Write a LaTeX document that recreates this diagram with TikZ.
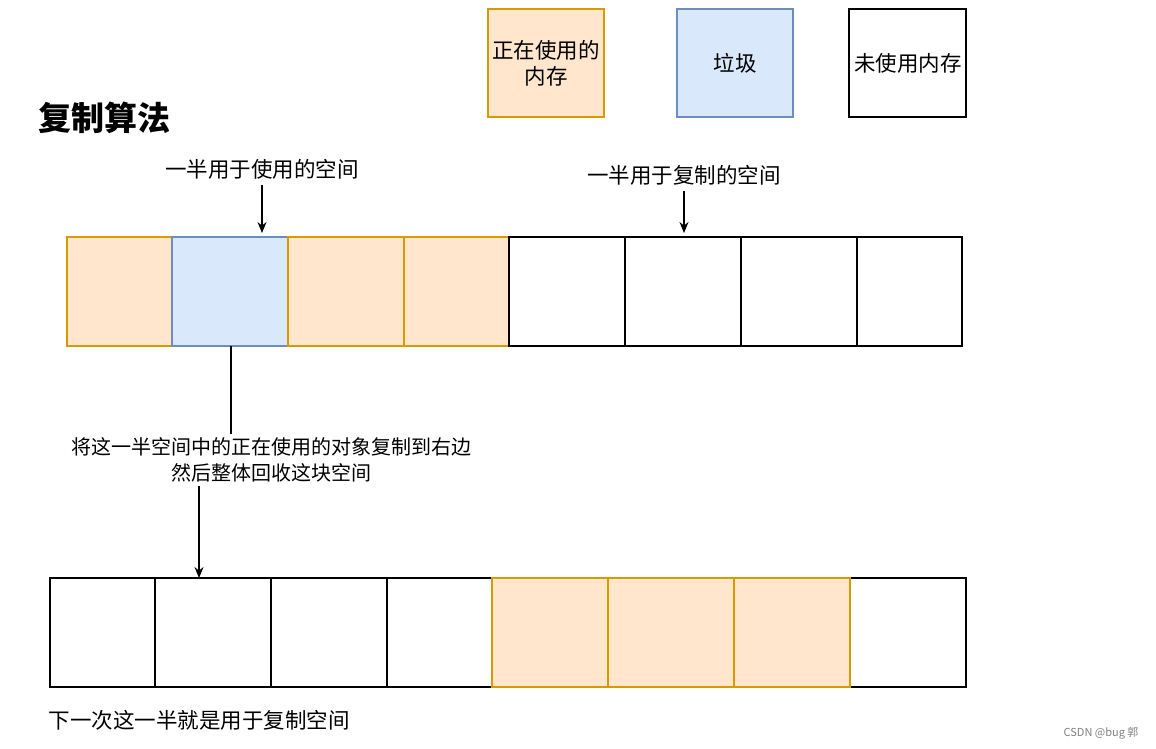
\documentclass[tikz,border=0pt]{standalone}
\usepackage{fontspec}
\setmainfont{Noto Sans CJK SC}
\usetikzlibrary{arrows.meta}
\definecolor{ofill}{HTML}{FFE6CC}\definecolor{odraw}{HTML}{D79B00}
\definecolor{bfill}{HTML}{DAE8FC}\definecolor{bdraw}{HTML}{6C8EBF}
\begin{document}
\begin{tikzpicture}[x=1pt,y=-1pt,
 used/.style={draw=odraw,fill=ofill,line width=1.3pt},
 junk/.style={draw=bdraw,fill=bfill,line width=1.3pt},
 free/.style={draw=black,fill=white,line width=1.3pt},
 txt/.style={font=\fontsize{21.5}{26}\selectfont,align=center},
 mtxt/.style={font=\fontsize{20}{26}\selectfont,align=center},
 arr/.style={-{Stealth[length=11pt,width=9pt]},line width=1.2pt}]
\useasboundingbox (0,0) rectangle (1156,749);
% legend
\draw[used] (488,9) rectangle (604,117); \node[txt] (l1) at (546,63) {正在使用的\\内存};
\draw[junk] (677,9) rectangle (793,117); \node[txt] (l2) at (735,63) {垃圾};
\draw[free] (849,9) rectangle (966,117); \node[txt] (l3) at (908,63) {未使用内存};
\node[font=\fontsize{33}{36}\selectfont\bfseries,anchor=west] (title) at (35,118) {复制算法};
% top row
\draw[used] (67,237) rectangle (172,346);
\draw[junk] (172,237) rectangle (288,346);
\draw[used] (288,237) rectangle (404,346);
\draw[used] (404,237) rectangle (509,346);
\foreach \a/\b in {509/625,625/741,741/857,857/962}{\draw[free] (\a,237) rectangle (\b,346);}
\node[txt] (t1) at (262,169) {一半用于使用的空间};
\node[txt] (t2) at (684,175) {一半用于复制的空间};
\coordinate (a1) at (262,233); \coordinate (a2) at (684,233);
\draw[arr] (t1.south) ++(0,2) -- (a1);
\draw[arr] (t2.south) ++(0,2) -- (a2);
% middle
\node[mtxt,fill=white,inner sep=1pt] (mid) at (271,460) {将这一半空间中的正在使用的对象复制到右边\\然后整体回收这块空间};
\coordinate (s1) at (231,346); \coordinate (s2) at (231,434);
\draw[line width=1.2pt] (s1) -- (s2);
\coordinate (e1) at (199,486); \coordinate (e2) at (199,578);
\draw[arr] (e1) -- (e2);
% bottom row
\foreach \a/\b in {50/155,155/271,271/387,387/492,850/966}{\draw[free] (\a,578) rectangle (\b,687);}
\foreach \a/\b in {492/608,608/734,734/850}{\draw[used] (\a,578) rectangle (\b,687);}
\node[txt,anchor=west] (bt) at (45,720) {下一次这一半就是用于复制空间};
\node[font=\fontsize{11}{13}\selectfont,text=gray,anchor=east] (csdn) at (1142,733) {CSDN @bug 郭};
\end{tikzpicture}
\end{document}
